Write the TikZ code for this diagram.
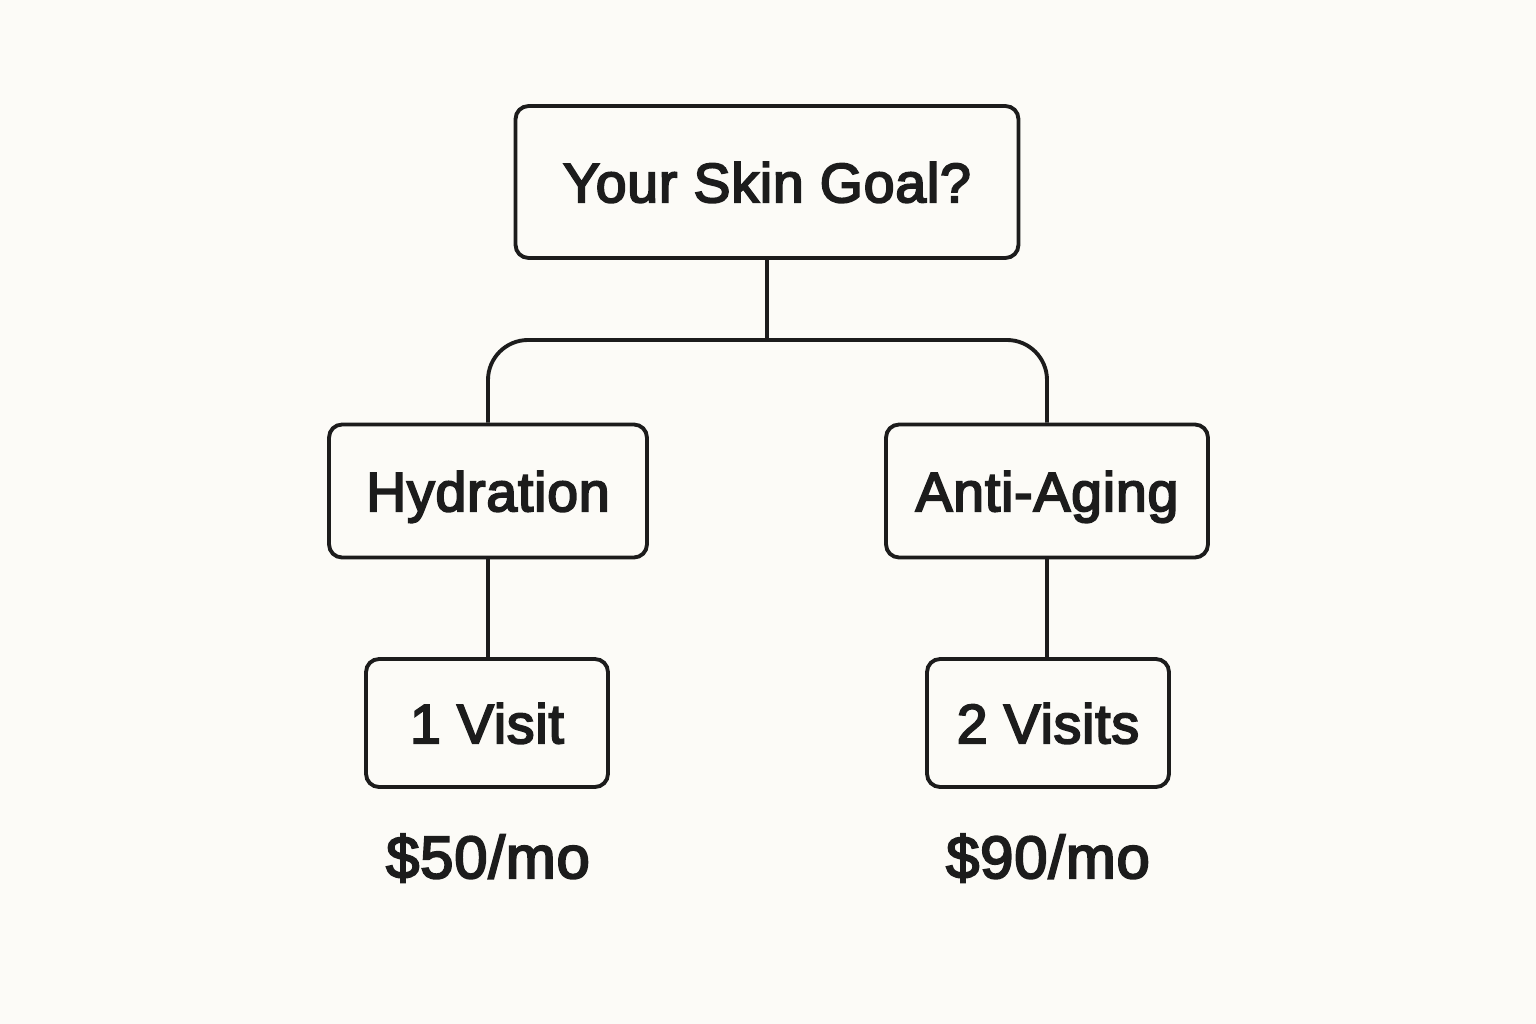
\documentclass[tikz,border=0pt]{standalone}
\usepackage{fontspec}
\newfontfamily\lblfont{Liberation Sans}[RawFeature={embolden=3.5},LetterSpace=1.5]
\usetikzlibrary{calc}
\definecolor{paper}{RGB}{252,251,247}
\definecolor{ink}{RGB}{28,28,28}
\newcommand{\lw}{2.2pt}

\begin{document}
\begin{tikzpicture}[x=0.02cm,y=-0.02cm,
    box/.style={draw=ink,line width=\lw,rounded corners=0.26cm,fill=paper,text=ink,
                font=\lblfont\fontsize{31.5}{38}\selectfont,
                text height=23pt,text depth=0pt,inner sep=0pt},
    price/.style={text=ink,font=\lblfont\fontsize{34}{40}\selectfont,
                  text height=24pt,text depth=0pt,inner sep=0pt},
    link/.style={draw=ink,line width=\lw}]
                    \fill[paper] (0,0) rectangle (1536,1024);
                    \coordinate (g) at (767,182);
                    \coordinate (h) at (488,491);
                    \coordinate (a) at (1047,491);
                    \coordinate (v1) at (487,723);
                    \coordinate (v2) at (1048,723);
                    \coordinate (split) at (767,340);
                    % boxes
                    \node[box,minimum width=10.06cm,minimum height=3.04cm] (goal) at (g) {Your Skin Goal?};
                    \node[box,minimum width=6.36cm,minimum height=2.66cm] (hyd) at (h) {Hydration};
                    \node[box,minimum width=6.44cm,minimum height=2.66cm] (anti) at (a) {Anti-Aging};
                    \node[box,minimum width=4.84cm,minimum height=2.56cm] (visit1) at (v1) {1 Visit};
                    \node[box,minimum width=4.84cm,minimum height=2.56cm] (visit2) at (v2) {2 Visits};
                    \node[price] (price1) at (488,857) {\$50/mo};
                    \node[price] (price2) at (1048,857) {\$90/mo};
                    % connectors
                    \draw[link] (goal.south) -- (split);
                    \draw[link,rounded corners=0.8cm] (hyd.north) |- (split) -| (anti.north);
                    \foreach \t/\b in {hyd/visit1,anti/visit2}{
                    \draw[link] (\t.south) -- (\t.south |- \b.north);
                    }
                    \end{tikzpicture}
\end{document}
